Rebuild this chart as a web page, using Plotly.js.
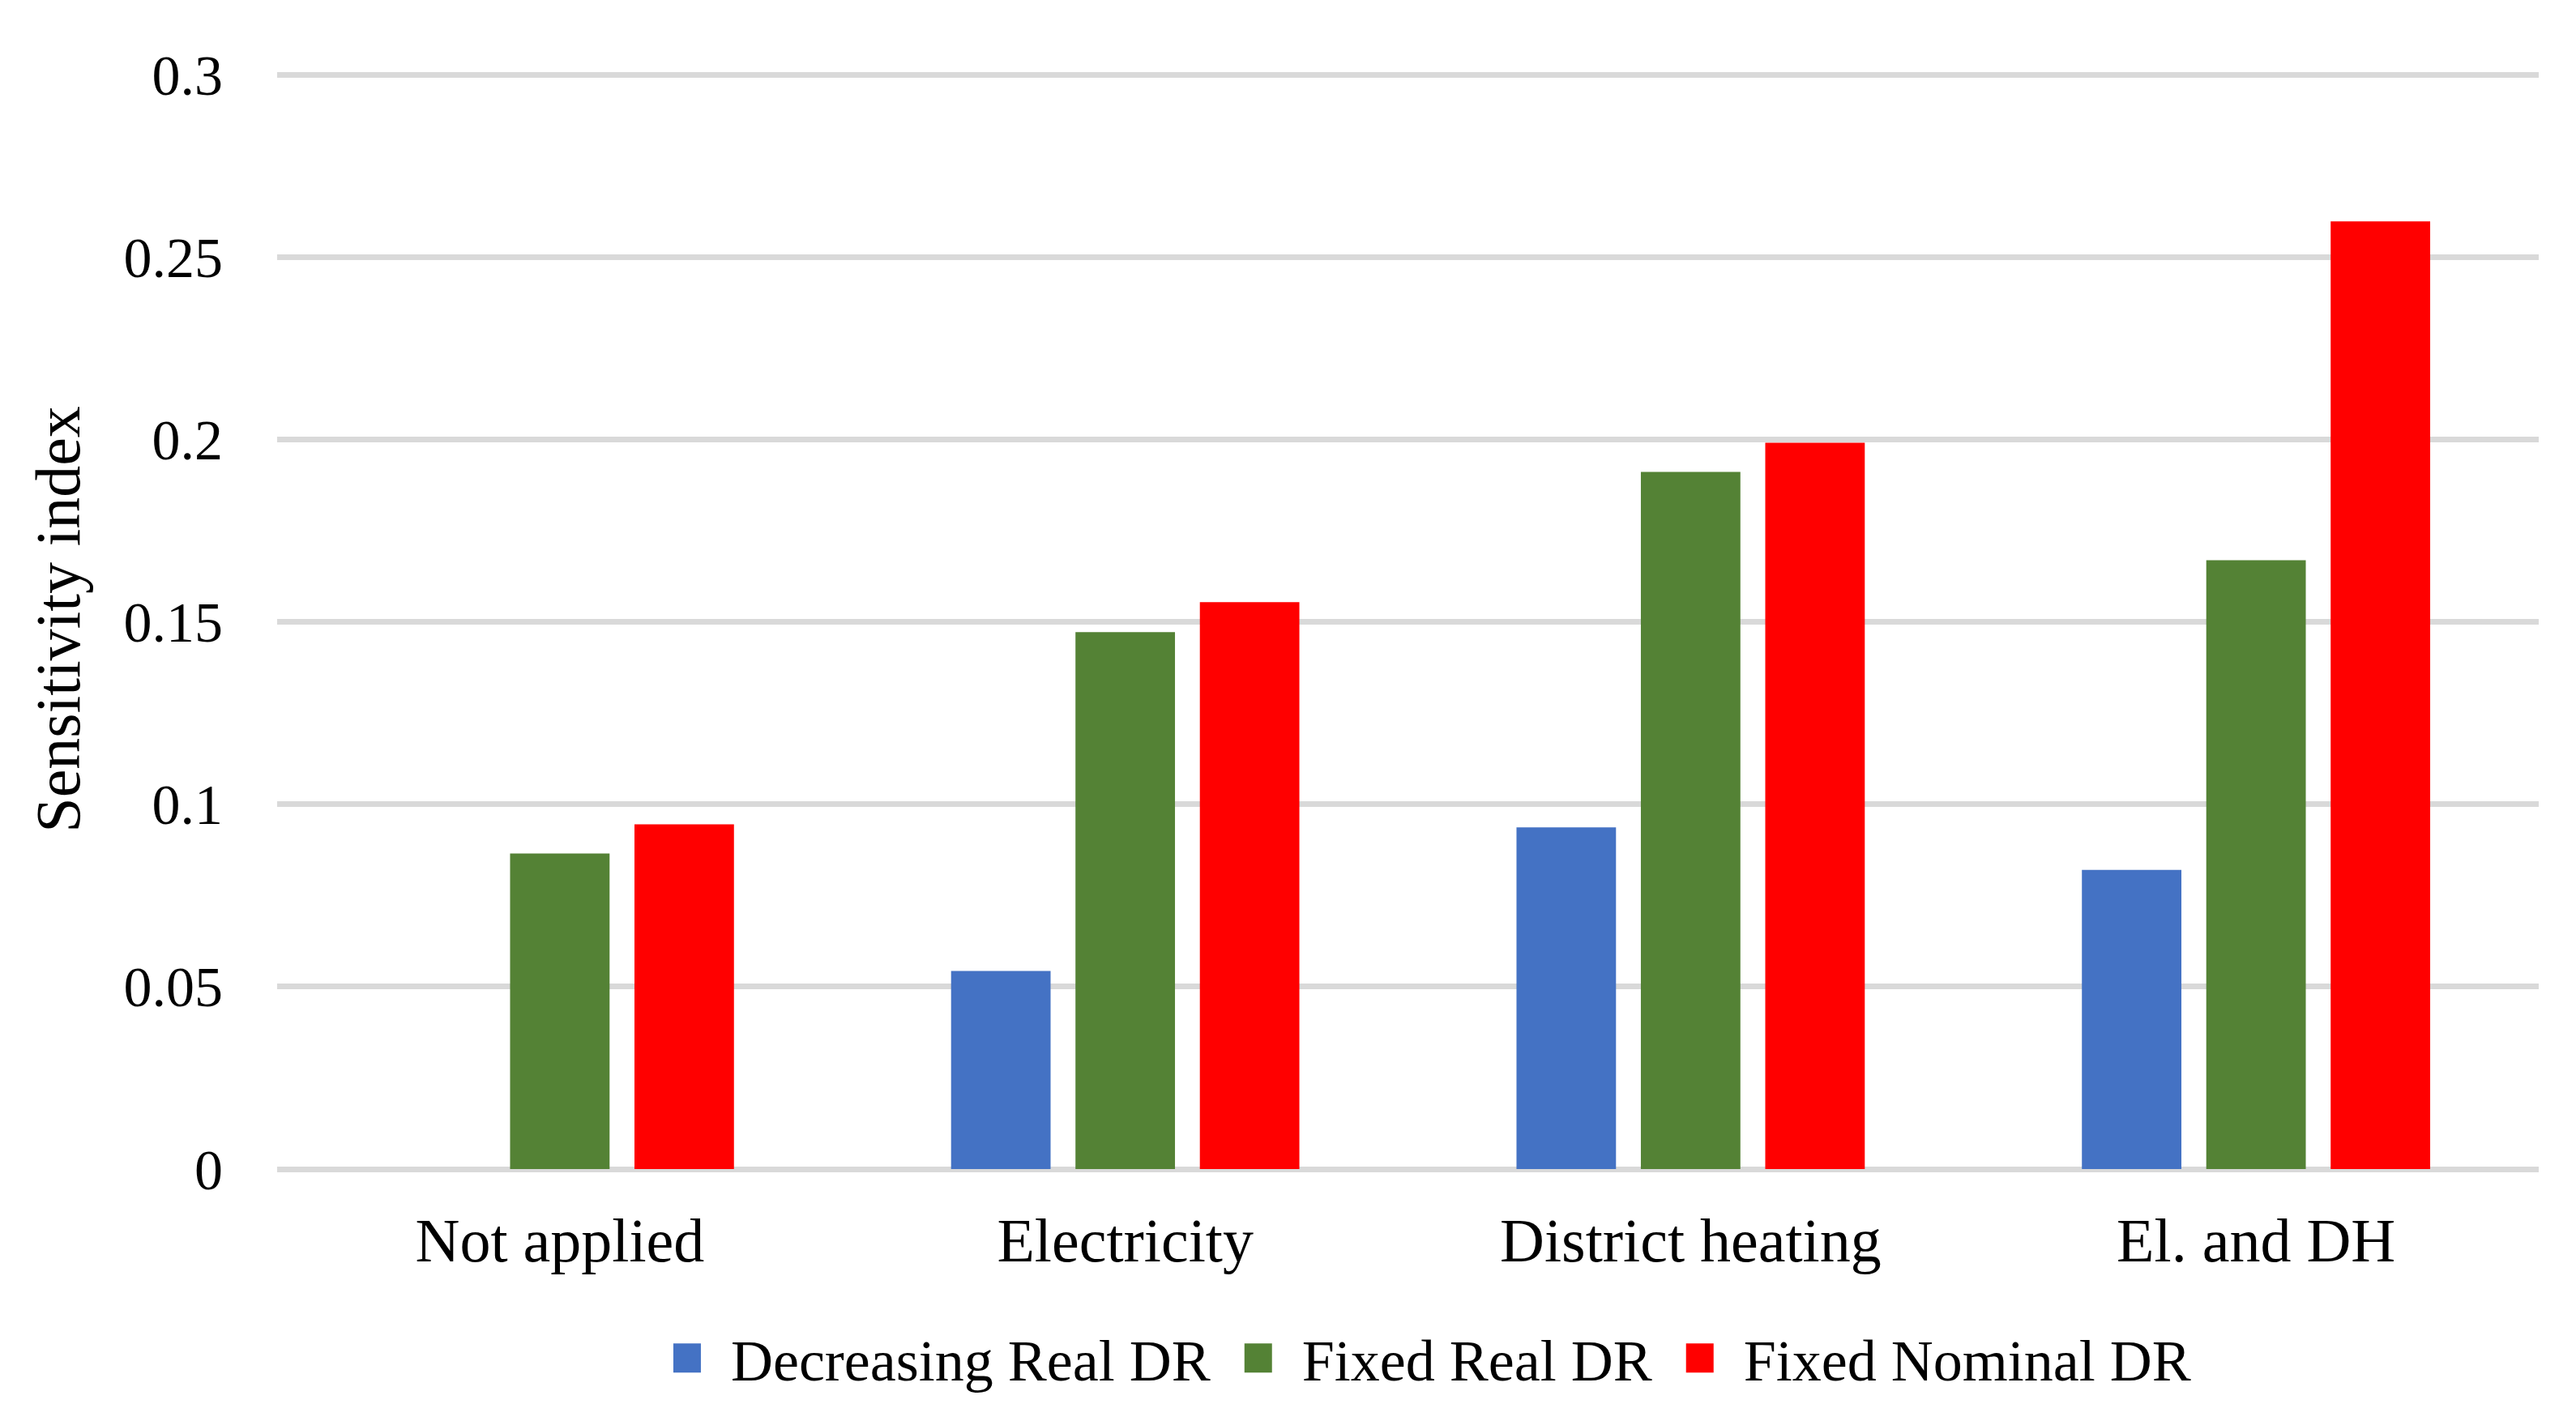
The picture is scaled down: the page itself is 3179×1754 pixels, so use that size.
<!DOCTYPE html>
<html>
<head>
<meta charset="utf-8">
<script src="https://cdn.plot.ly/plotly-3.0.1.min.js"></script>
<style>html,body{margin:0;padding:0;background:#fff;}#chart{width:3179px;height:1754px;}</style>
</head>
<body>
<div id="chart"></div>
<script>
const categories = ['Not applied', 'Electricity', 'District heating', 'El. and DH'];
const seriesNames = ['Decreasing Real DR', 'Fixed Real DR', 'Fixed Nominal DR'];
const decreasingReal = [0, 0.0543, 0.0937, 0.0820];
const fixedReal = [0.0865, 0.1472, 0.1911, 0.1669];
const fixedNominal = [0.0945, 0.1554, 0.1991, 0.2598];
const yTicks = [0, 0.05, 0.1, 0.15, 0.2, 0.25, 0.3];
const yTickLabels = ['0', '0.05', '0.1', '0.15', '0.2', '0.25', '0.3'];

const colors = ['#4472C4', '#548235', '#FF0000'];
const values = [decreasingReal, fixedReal, fixedNominal];
const font = 'Liberation Serif, Times New Roman, serif';

const data = values.map((v, i) => ({
  type: 'bar',
  name: seriesNames[i],
  x: categories,
  y: v,
  marker: {color: colors[i]},
  hoverinfo: 'x+y+name'
}));

const layout = {
  width: 3179, height: 1754,
  paper_bgcolor: '#fff', plot_bgcolor: '#fff',
  margin: {l: 342, r: 46, t: 86, b: 311},
  barmode: 'group', bargap: 0.34, bargroupgap: 0.2,
  font: {family: font, color: '#000'},
  xaxis: {
    type: 'category',
    tickfont: {size: 76, family: font, color: '#000'},
    showgrid: false, showline: false, zeroline: false,
    ticks: 'outside', ticklen: 22, tickcolor: 'rgba(0,0,0,0)'
  },
  yaxis: {
    range: [0, 0.3014],
    tickvals: yTicks, ticktext: yTickLabels,
    tickfont: {size: 70, family: font, color: '#000'},
    showgrid: true, gridcolor: '#D9D9D9', gridwidth: 7,
    zeroline: true, zerolinecolor: '#D9D9D9', zerolinewidth: 7,
    showline: false,
    ticks: 'outside', ticklen: 52, tickcolor: 'rgba(0,0,0,0)',
    title: {text: 'Sensitivity index', font: {size: 78, family: font, color: '#000'}, standoff: 28},
    automargin: false
  },
  legend: {
    orientation: 'h', x: 0.505, xanchor: 'center', y: -0.172, yanchor: 'middle',
    font: {size: 72, family: font, color: '#000'},
    itemwidth: 98,
    traceorder: 'normal', itemclick: false
  },
  showlegend: true
};

function bigLegendSymbols() {
  document.querySelectorAll('#chart .legend .legendpoints path').forEach(p => {
    p.setAttribute('d', 'M17,18H-17V-18H17Z');
  });
}

Plotly.newPlot('chart', data, layout, {displayModeBar: false}).then(() => {
  bigLegendSymbols();
  setTimeout(bigLegendSymbols, 50);
});
</script>
</body>
</html>
